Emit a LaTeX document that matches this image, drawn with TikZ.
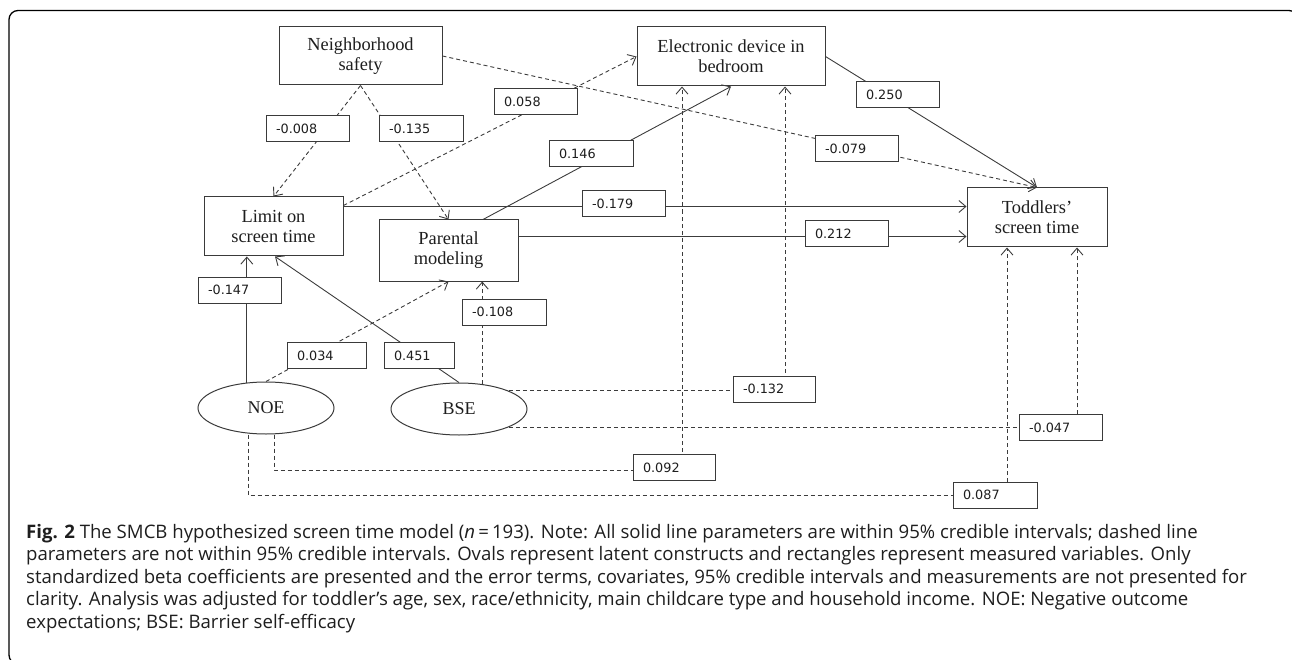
\documentclass[tikz,border=0pt]{standalone}
\usepackage{fontspec}
\setmainfont{Liberation Serif}
\newfontfamily\lblfont{DejaVu Sans}
\newfontfamily\capfont{Open Sans}
\usetikzlibrary{arrows.meta,shapes.geometric,backgrounds}
\definecolor{lc}{HTML}{3C3C3C}
\definecolor{bc}{HTML}{3A3A3A}
\definecolor{tc}{HTML}{1E1E1E}
\begin{document}
\begin{tikzpicture}[x=1pt,y=-1pt,
  var/.style={draw=bc, line width=1pt, align=center, text=tc, inner sep=0pt,
    font=\fontsize{18.4}{20}\selectfont},
  lat/.style={ellipse, draw=bc, line width=1pt, text=tc, inner sep=0pt,
    minimum width=136pt, minimum height=52pt, font=\fontsize{18}{20}\selectfont},
  lbl/.style={draw=bc, fill=white, line width=1pt, text=tc, inner xsep=10pt, inner ysep=0pt,
    text width=#1, align=left, minimum height=26pt, text height=9.5pt, text depth=0pt,
    font=\lblfont\fontsize{12.8}{14}\selectfont},
  capline/.style={anchor=base west, inner sep=0pt, text=tc,
    font=\capfont\fontsize{18.6}{22}\selectfont},
  sig/.style={draw=lc, line width=0.9pt, -{Straight Barb[length=7pt,width=12pt]}},
  ns/.style={sig, dash pattern=on 4pt off 3pt}]
\useasboundingbox (0,0) rectangle (1292,660);
\draw[line width=1.3pt, rounded corners=9pt] (9,10.5) rectangle (1298,664);

% variables
\node[var, minimum width=163pt, minimum height=58pt] (neigh) at (360.5,56) {Neighborhood\\safety};
\node[var, minimum width=188pt, minimum height=59pt] (elec) at (731,56.5) {Electronic device in\\bedroom};
\node[var, minimum width=139pt, minimum height=59pt] (limit) at (273.5,226.5) {Limit on\\screen time};
\node[var, minimum width=139pt, minimum height=61pt] (par) at (448.5,250.5) {Parental\\modeling};
\node[var, minimum width=140pt, minimum height=59pt] (tod) at (1037,217.5) {Toddlers’\\screen time};
\node[lat] (noe) at (266,408) {NOE};
\node[lat] (bse) at (459,409) {BSE};

% labels
\node[lbl=63pt] (l008) at (307.5,128.5) {-0.008};
\node[lbl=64pt] (l135) at (421,128.5) {-0.135};
\node[lbl=63pt] (l058) at (535.5,102) {0.058};
\node[lbl=64pt] (l146) at (591,154) {0.146};
\node[lbl=63pt] (l179) at (623.5,204) {-0.179};
\node[lbl=63pt] (l212) at (846.5,233.5) {0.212};
\node[lbl=63pt] (l250) at (897.5,94.5) {0.250};
\node[lbl=63pt] (l079) at (856.5,149) {-0.079};
\node[lbl=63pt] (l147) at (239.5,290) {-0.147};
\node[lbl=64pt] (l108) at (504,312) {-0.108};
\node[lbl=59pt] (l034) at (326.5,355.5) {0.034};
\node[lbl=50pt] (l451) at (419,355.5) {0.451};
\node[lbl=62pt] (l132) at (774,389) {-0.132};
\node[lbl=63pt] (l047) at (1060.5,427.5) {-0.047};
\node[lbl=62pt] (l092) at (674,467.5) {0.092};
\node[lbl=64pt] (l087) at (995,495) {0.087};

\begin{scope}[on background layer]
  \draw[ns] (neigh.south) -- (limit.north);
  \draw[ns] (neigh.south) -- (par.north);
  \draw[ns] (neigh.east) -- (tod.north);
  \draw[ns] ([yshift=-9pt]limit.north east) -- (elec.west);
  \draw[sig] ([yshift=-10pt]limit.north east) -- ([yshift=-19pt]tod.north west);
  \draw[sig] ([yshift=-17pt]par.north east) -- ([yshift=-49pt]tod.north west);
  \draw[sig] ([xshift=34.5pt]par.north) -- (elec.south);
  \draw[sig] (elec.east) -- (tod.north);
  \draw[sig] (noe.127) -- (noe.127 |- limit.south);
  \draw[sig] (bse.north) -- ([xshift=1.5pt]limit.south);
  \draw[ns] (noe.north) -- (par.south);
  \draw[ns] (bse.47) -- (bse.47 |- par.south);
  \draw[ns] (bse.20) -| ([xshift=54pt]elec.south);
  \draw[ns] (bse.-20) -| ([xshift=40pt]tod.south);
  \draw[ns] ([xshift=8pt]noe.south) |- ([yshift=-2.5pt]l092.center) -| ([xshift=-49pt]elec.south);
  \draw[ns] ([xshift=-18pt]noe.south) |- (l087.center) -| ([xshift=-30pt]tod.south);
\end{scope}

% caption, one node per printed line
\node[capline] (cap1) at (26,538) {{\bfseries Fig. 2} The SMCB hypothesized screen time model ({\itshape n}\,=\,193). Note: All solid line parameters are within 95\% credible intervals; dashed line};
\node[capline] (cap2) at (26,560.5) {parameters are not within 95\% credible intervals. Ovals represent latent constructs and rectangles represent measured variables. Only};
\node[capline] (cap3) at (26,583) {standardized beta coefficients are presented and the error terms, covariates, 95\% credible intervals and measurements are not presented for};
\node[capline] (cap4) at (26,605.5) {clarity. Analysis was adjusted for toddler’s age, sex, race/ethnicity, main childcare type and household income. NOE: Negative outcome};
\node[capline] (cap5) at (26,628) {expectations; BSE: Barrier self-efficacy};
\end{tikzpicture}
\end{document}
